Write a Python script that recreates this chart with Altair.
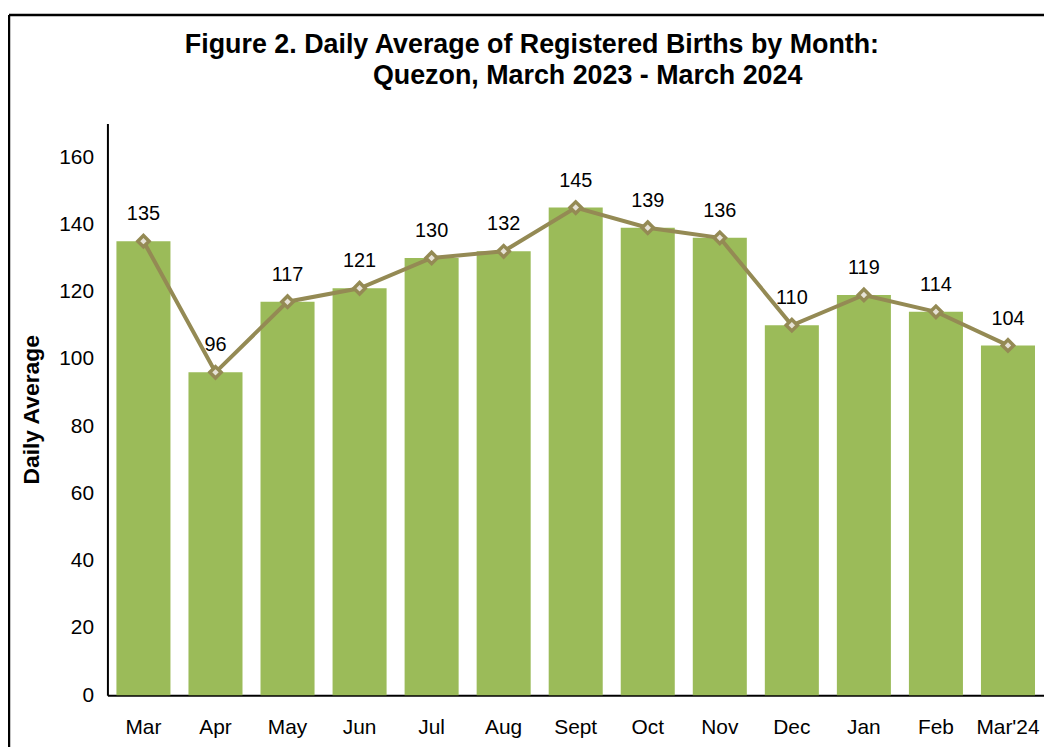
import altair as alt
import pandas as pd

months = ["Mar", "Apr", "May", "Jun", "Jul", "Aug", "Sept", "Oct", "Nov", "Dec", "Jan", "Feb", "Mar'24"]
values = [135, 96, 117, 121, 130, 132, 145, 139, 136, 110, 119, 114, 104]
title1 = "Figure 2. Daily Average of Registered Births by Month:"
title2 = "Quezon, March 2023 - March 2024"
y_ticks = [0, 20, 40, 60, 80, 100, 120, 140, 160]

df = pd.DataFrame({"month": months, "value": values})
one = pd.DataFrame({"k": [0]})

FONT = "Liberation Sans"
BAR = "#9BBB59"
LINE = "#948A54"

x = alt.X("month:N", sort=months, title=None,
          scale=alt.Scale(paddingInner=0.25, paddingOuter=0.125),
          axis=alt.Axis(labelAngle=0, ticks=False, domainColor="black", domainWidth=2,
                        labelFontSize=21, labelFont=FONT, labelColor="black", labelPadding=22))
y = alt.Y("value:Q", title="Daily Average",
          scale=alt.Scale(domain=[0, 170], nice=False),
          axis=alt.Axis(values=y_ticks, grid=False, ticks=False, domainColor="black", domainWidth=2,
                        labelFontSize=21, labelFont=FONT, labelColor="black", labelPadding=14,
                        titleFontSize=23, titleFont=FONT, titleFontWeight="bold", titleColor="black",
                        titlePadding=15))

base = alt.Chart(df)
bars = base.mark_bar(color=BAR).encode(x=x, y=y)
line = base.mark_line(color=LINE, strokeWidth=4).encode(x=x, y=y)
pts = base.mark_point(shape="diamond", size=130, filled=True, fill="#E6E2D6", stroke=LINE,
                      strokeWidth=3.5, opacity=1).encode(x=x, y=y)
labels = base.mark_text(dy=-27, fontSize=20, font=FONT, color="black").encode(
    x=x, y=y, text=alt.Text("value:Q"))

t1 = alt.Chart(one).mark_text(text=title1, fontSize=27, font=FONT, fontWeight="bold",
                              color="black", align="center", baseline="middle").encode(
    x=alt.value(427), y=alt.value(-79))
t2 = alt.Chart(one).mark_text(text=title2, fontSize=27, font=FONT, fontWeight="bold",
                              color="black", align="center", baseline="middle").encode(
    x=alt.value(483), y=alt.value(-48))

left_border = alt.Chart(one).mark_rule(color="black", strokeWidth=2.5).encode(
    x=alt.value(-99), y=alt.value(-109), y2=alt.value(660))
top_border = alt.Chart(one).mark_rule(color="black", strokeWidth=2.5).encode(
    x=alt.value(-99), x2=alt.value(950), y=alt.value(-109))

chart = alt.layer(bars, line, pts, labels, t1, t2, left_border, top_border).properties(
    width=942, height=575,
    autosize=alt.AutoSizeParams(type="none"),
    padding={"left": 100, "top": 114, "right": 0, "bottom": 50},
).configure(background="white").configure_view(stroke=None, strokeWidth=0)

chart.save("out.html", embed_options={"renderer": "svg", "actions": False})
